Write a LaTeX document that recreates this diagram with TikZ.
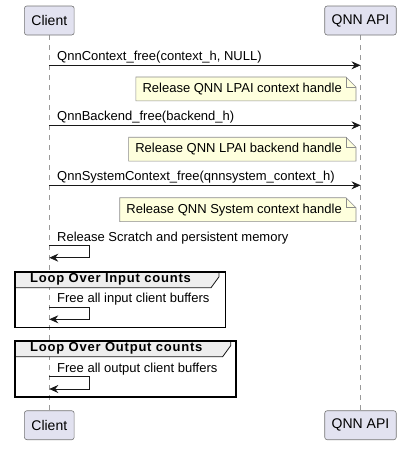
\documentclass[tikz,border=0pt]{standalone}
\usepackage{fontspec}
\setmainfont{Liberation Sans}
\usepackage{xcolor}
\usepackage{tikz}
\usetikzlibrary{arrows.meta}
\usetikzlibrary{positioning}
\usetikzlibrary{backgrounds}
\definecolor{partfill}{HTML}{E2E2F0}
\definecolor{notefill}{HTML}{FEFFDD}
\definecolor{tabfill}{HTML}{EEEEEE}
\definecolor{ink}{HTML}{181818}

% note with folded corner: name, y, text
\newcommand{\notebox}[3]{%
  \node[notetext, anchor=east] (#1) at (342,#2) {#3};
  \begin{scope}[on background layer]
    \draw[notebox] ([xshift=-6.5pt]#1.south west) -- ([xshift=-6.5pt]#1.north west)
      -- ([xshift=4pt]#1.north east) -- ([xshift=14pt,yshift=-10pt]#1.north east)
      -- ([xshift=14pt]#1.south east) -- cycle;
  \end{scope}
  \draw[notebox, fill=none] ([xshift=4pt]#1.north east) |- ([xshift=14pt,yshift=-10pt]#1.north east);
}

% loop frame: name, top, bottom, right, label
\newcommand{\loopframe}[5]{%
  \node[looplabel, anchor=west] (#1) at (30,#2+7.8) {#5};
  \begin{scope}[on background layer]
    \draw[looptab] (14.7,#2) -- ([xshift=28pt]#1.east |- 0,#2) -- ([xshift=28pt]#1.east |- 0,#2+5)
      -- ([xshift=20pt]#1.east |- 0,#2+16) -- (14.7,#2+16);
  \end{scope}
  \draw[loopbox] (14.7,#2) rectangle (#4,#3);
}

\begin{document}
\begin{tikzpicture}[x=1pt, y=-1pt,
  every node/.style = {font=\fontsize{13}{15}\selectfont},
  part/.style = {draw=ink!60, fill=partfill, rounded corners=2.5pt, line width=0.6pt,
    minimum height=29pt, inner xsep=7pt, font=\fontsize{14}{16}\selectfont},
  lifeline/.style = {draw=gray!80, line width=0.5pt, dash pattern=on 5pt off 5pt},
  msg/.style = {draw=ink, line width=0.8pt, -{Stealth[length=9pt, width=8pt, inset=3pt]}},
  msglabel/.style = {anchor=base west, inner sep=0pt},
  notetext/.style = {inner xsep=0pt, inner ysep=0pt, minimum height=23.5pt},
  notebox/.style = {draw=ink!50, fill=notefill, line width=0.6pt},
  looplabel/.style = {inner sep=0pt, font=\fontsize{13}{15}\selectfont\bfseries\addfontfeatures{LetterSpace=6}},
  looptab/.style = {draw=ink, fill=tabfill, line width=0.8pt},
  loopbox/.style = {draw=black, line width=1.6pt}]
  \useasboundingbox (0,0) rectangle (410,451);

  \node[part] (clientTop) at (49.3,20.5) {Client};
  \node[part] (apiTop) at (360.5,20.5) {QNN API};
  \node[part] (clientBot) at (49.3,425.2) {Client};
  \node[part] (apiBot) at (360.5,425.2) {QNN API};
  \begin{scope}[on background layer]
    \draw[lifeline] (clientTop) -- (clientBot);
    \draw[lifeline] (apiTop) -- (apiBot);
  \end{scope}

  % calls into the API
  \foreach \y/\txt [count=\i] in {65.3/{QnnContext\_free(context\_h, NULL)},
      125.3/{QnnBackend\_free(backend\_h)},
      185.3/{QnnSystemContext\_free(qnnsystem\_context\_h)}} {
    \coordinate (call\i) at (49.3,\y);
    \coordinate (ret\i) at (360.5,\y);
    \draw[msg] (call\i) -- (ret\i);
    \node[msglabel] (lbl\i) at (57,\y-4.5) {\txt};
  }

  \notebox{note1}{88.9}{Release QNN LPAI context handle}
  \notebox{note2}{149.2}{Release QNN LPAI backend handle}
  \notebox{note3}{209.7}{Release QNN System context handle}

  % self messages
  \coordinate (self1) at (49.3,245.7);
  \coordinate (self1e) at (49.3,257.7);
  \node[msglabel] (selfLbl1) at (57,241.2) {Release Scratch and persistent memory};
  \draw[msg] (self1) -- ++(40,0) |- (self1e);

  \loopframe{loopIn}{271.7}{327.3}{225.3}{Loop Over Input counts}
  \coordinate (self2) at (49.3,307.3);
  \coordinate (self2e) at (49.3,319.3);
  \node[msglabel] (selfLbl2) at (57,302.5) {Free all input client buffers};
  \draw[msg] (self2) -- ++(40,0) |- (self2e);

  \loopframe{loopOut}{340.7}{396.7}{236}{Loop Over Output counts}
  \coordinate (self3) at (49.3,376.3);
  \coordinate (self3e) at (49.3,389);
  \node[msglabel] (selfLbl3) at (57,372.2) {Free all output client buffers};
  \draw[msg] (self3) -- ++(40,0) |- (self3e);
\end{tikzpicture}
\end{document}
